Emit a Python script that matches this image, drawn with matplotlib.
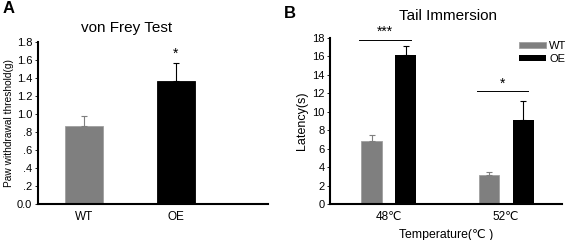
import matplotlib.pyplot as plt
import numpy as np

plt.rcParams['font.family'] = ['Liberation Sans', 'DejaVu Sans']

# Panel A: von Frey
grupos = ['WT', 'OE']
limiar = [0.87, 1.37]
limiar_err = [0.11, 0.20]

# Panel B: tail immersion
temps = ['48\u2103', '52\u2103']
lat_wt = [6.8, 3.15]
lat_wt_err = [0.7, 0.3]
lat_oe = [16.1, 9.05]
lat_oe_err = [1.0, 2.15]

cinza = '#7f7f7f'
fig = plt.figure(figsize=(5.67, 2.4), dpi=100)

def estilo(ax):
    for s in ['top', 'right']:
        ax.spines[s].set_visible(False)
    for s in ['left', 'bottom']:
        ax.spines[s].set_linewidth(1.5)
    ax.tick_params(axis='y', length=2, width=0.6, labelsize=8, pad=2)
    ax.tick_params(axis='x', length=0, labelsize=8.5, pad=5)

# ---------------- A
axA = fig.add_axes([0.0665, 0.149, 0.406, 0.677])
x = np.arange(len(grupos))
axA.bar(x, limiar, width=0.41, color=[cinza, 'k'], edgecolor=['#a0a0a0', 'k'], linewidth=0.6)
for i in range(len(grupos)):
    c = cinza if i == 0 else 'k'
    axA.errorbar(x[i], limiar[i], yerr=[[0], [limiar_err[i]]], fmt='none',
                 ecolor=c, elinewidth=0.8, capsize=2.5, capthick=0.8)
axA.text(x[1], limiar[1] + limiar_err[1] + 0.02, '*', ha='center', va='bottom', fontsize=10)
axA.set_xlim(-0.5, 2.0)
axA.set_ylim(0, 1.8)
axA.set_yticks(np.arange(0, 1.81, 0.2))
axA.set_yticklabels(['0.0', '.2', '.4', '.6', '.8', '1.0', '1.2', '1.4', '1.6', '1.8'])
axA.set_xticks(x)
axA.set_xticklabels(grupos)
axA.set_ylabel('Paw withdrawal threshold(g)', fontsize=7.3, labelpad=2)
estilo(axA)
fig.text(0.224, 0.885, 'von Frey Test', ha='center', va='center', fontsize=11)
fig.text(0.005, 0.965, 'A', ha='left', va='center', fontsize=12, fontweight='bold')

# ---------------- B
axB = fig.add_axes([0.582, 0.149, 0.410, 0.694])
xb = np.arange(len(temps))
off = 0.146
w = 0.178
axB.bar(xb - off, lat_wt, width=w, color=cinza, edgecolor='#a0a0a0', linewidth=0.6, label='WT')
axB.bar(xb + off, lat_oe, width=w, color='k', label='OE')
axB.errorbar(xb - off, lat_wt, yerr=[np.zeros(2), lat_wt_err], fmt='none',
             ecolor=cinza, elinewidth=0.8, capsize=2.5, capthick=0.8)
axB.errorbar(xb + off, lat_oe, yerr=[np.zeros(2), lat_oe_err], fmt='none',
             ecolor='k', elinewidth=0.8, capsize=2.5, capthick=0.8)
# significancia
sig = ['***', '*']
sig_y = [17.8, 12.2]
for i in range(len(temps)):
    axB.plot([xb[i] - 0.25, xb[i] + 0.19], [sig_y[i], sig_y[i]], color='k', linewidth=0.7)
    axB.text(xb[i] - 0.03, sig_y[i] + 0.05, sig[i], ha='center', va='bottom', fontsize=10)
axB.set_xlim(-0.5, 1.48)
axB.set_ylim(0, 18)
axB.set_yticks(np.arange(0, 19, 2))
axB.set_xticks(xb)
axB.set_xticklabels(temps)
axB.set_ylabel('Latency(s)', fontsize=9, labelpad=3)
axB.set_xlabel('Temperature(\u2103 )', fontsize=8.8, labelpad=4)
estilo(axB)
axB.legend(loc='upper right', bbox_to_anchor=(1.06, 1.04), frameon=False, fontsize=8,
           handlelength=2.4, handleheight=0.45, handletextpad=0.3, labelspacing=0.3)
fig.text(0.79, 0.935, 'Tail Immersion', ha='center', va='center', fontsize=11)
fig.text(0.5, 0.945, 'B', ha='left', va='center', fontsize=12, fontweight='bold')

fig.savefig('out.png', dpi=100)
